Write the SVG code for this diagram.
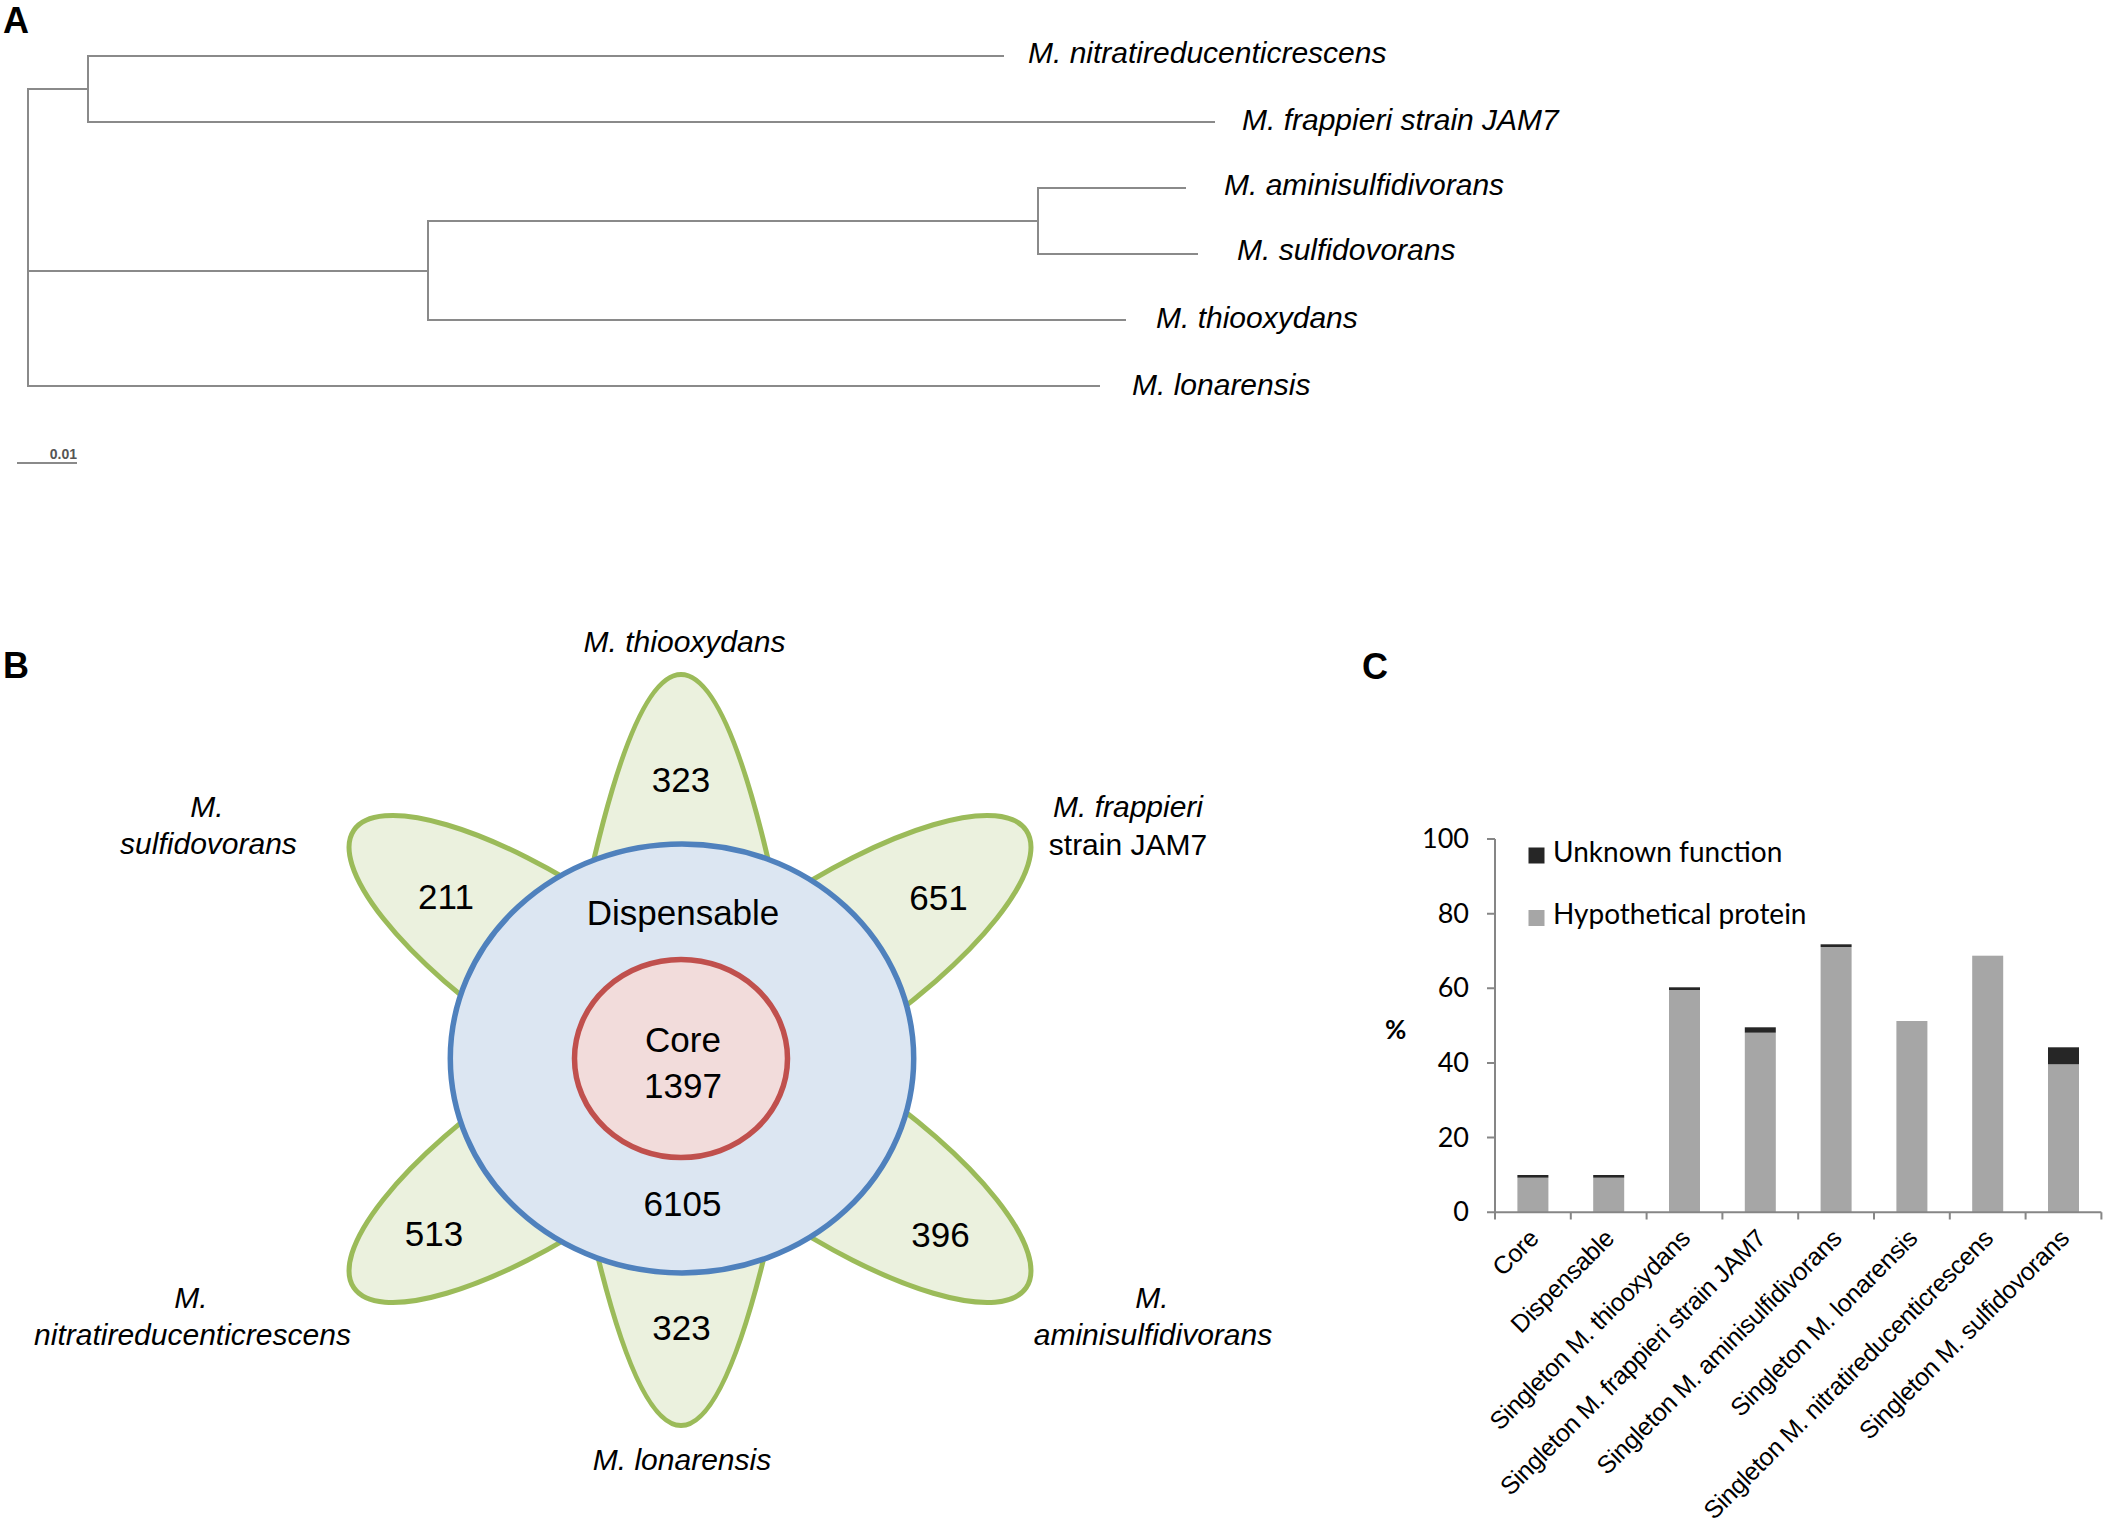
<svg xmlns="http://www.w3.org/2000/svg" width="2105" height="1526" viewBox="0 0 2105 1526">
<style>
.panel{font-family:"Liberation Sans",Arial,sans-serif;font-weight:bold;font-size:36px;fill:#000}
.tree{fill:none;stroke:#8a8a8a;stroke-width:2;stroke-linecap:square}
.sp{font-family:"Liberation Sans",Arial,sans-serif;font-style:italic;font-size:30px;fill:#000}
.num{font-family:"Liberation Sans",Arial,sans-serif;font-size:35px;fill:#000;text-anchor:middle}
.petal{fill:#EBF1DE;stroke:#9BBB59;stroke-width:5}
.disp{fill:#DCE6F2;stroke:#4F81BD;stroke-width:5.5}
.core{fill:#F2DCDB;stroke:#C0504D;stroke-width:5.5}
.ax{fill:none;stroke:#868686;stroke-width:2}
.ct{font-family:Lato,"Liberation Sans",sans-serif;font-size:27px;fill:#000}
.lg{font-family:Lato,"Liberation Sans",sans-serif;font-size:28px;fill:#000}
.xl{font-family:"Liberation Sans",Arial,sans-serif;font-size:25px;letter-spacing:-0.35px;fill:#000;text-anchor:end}
.hyp{fill:#A6A6A6}
.unk{fill:#262626}
</style>

<!-- Panel A: tree -->
<text class="panel" x="3" y="33">A</text>
<g id="connectors">
<path class="tree" d="M28,89 V386 M28,89 H88 M88,56 V122 M88,56 H1003 M88,122 H1214 M28,271 H428 M428,221 V320 M428,221 H1038 M1038,188 V254 M1038,188 H1185 M1038,254 H1197 M428,320 H1125 M28,386 H1099"/>
</g>
<g id="leaf-nitratireducenticrescens"><text class="sp" x="1028" y="63">M. nitratireducenticrescens</text></g>
<g id="leaf-frappieri"><text class="sp" x="1242" y="130">M. frappieri strain JAM7</text></g>
<g id="leaf-aminisulfidivorans"><text class="sp" x="1224" y="195">M. aminisulfidivorans</text></g>
<g id="leaf-sulfidovorans"><text class="sp" x="1237" y="260">M. sulfidovorans</text></g>
<g id="leaf-thiooxydans"><text class="sp" x="1156" y="328">M. thiooxydans</text></g>
<g id="leaf-lonarensis"><text class="sp" x="1132" y="395">M. lonarensis</text></g>
<g id="scale-bar">
<line x1="17" y1="463" x2="77" y2="463" stroke="#8a8a8a" stroke-width="2"/>
<text x="77" y="459" text-anchor="end" font-family="Liberation Sans,Arial,sans-serif" font-size="14" font-weight="bold" fill="#555">0.01</text>
</g>

<!-- Panel B: flower -->
<text class="panel" x="3" y="678">B</text>
<g id="petal-thiooxydans">
<path class="petal" d="M586,894.5 Q633.5,674.5 681,674.5 Q728.5,674.5 776,894.5 Z"/>
</g>
<g id="petal-lonarensis">
<path class="petal" d="M586,1205.5 Q633.5,1425.5 681,1425.5 Q728.5,1425.5 776,1205.5 Z"/>
</g>
<g id="petal-sulfidovorans">
<ellipse class="petal" cx="562.7" cy="971.3" rx="252" ry="80" transform="rotate(34 562.7 971.3)"/>
</g>
<g id="petal-nitratireducenticrescens">
<ellipse class="petal" cx="562.7" cy="1146.7" rx="252" ry="80" transform="rotate(-34 562.7 1146.7)"/>
</g>
<g id="petal-frappieri">
<ellipse class="petal" cx="817.3" cy="971.3" rx="252" ry="80" transform="rotate(-34 817.3 971.3)"/>
</g>
<g id="petal-aminisulfidivorans">
<ellipse class="petal" cx="817.3" cy="1146.7" rx="252" ry="80" transform="rotate(34 817.3 1146.7)"/>
</g>
<g id="dispensable">
<ellipse class="disp" cx="682" cy="1058.4" rx="231.7" ry="214.5"/>
<text class="num" x="683" y="925">Dispensable</text>
<text class="num" x="682.5" y="1216">6105</text>
</g>
<g id="core">
<ellipse class="core" cx="681" cy="1058.5" rx="106.5" ry="99"/>
<text class="num" x="683" y="1052">Core</text>
<text class="num" x="683" y="1098">1397</text>
</g>
<g id="counts">
<text class="num" x="681" y="792">323</text>
<text class="num" x="446" y="909">211</text>
<text class="num" x="938.5" y="910">651</text>
<text class="num" x="434" y="1246">513</text>
<text class="num" x="940.5" y="1247">396</text>
<text class="num" x="681.5" y="1340">323</text>
</g>
<g id="labels-b" class="sp" text-anchor="middle">
<text x="684.5" y="652">M. thiooxydans</text>
<text x="207" y="817">M.</text>
<text x="208.5" y="854">sulfidovorans</text>
<text x="1128" y="817">M. frappieri</text>
<text x="1128" y="855" font-style="normal">strain JAM7</text>
<text x="191" y="1308">M.</text>
<text x="192.5" y="1345">nitratireducenticrescens</text>
<text x="1152" y="1308">M.</text>
<text x="1153" y="1345">aminisulfidivorans</text>
<text x="682" y="1470">M. lonarensis</text>
</g>

<!-- Panel C: bar chart -->
<text class="panel" x="1362" y="679">C</text>
<g id="chart">
<g id="bars">
<rect class="hyp" x="1517.4" y="1177.7" width="31" height="34.6"/>
<rect class="unk" x="1517.4" y="1175" width="31" height="2.7"/>
<rect class="hyp" x="1593.2" y="1177.7" width="31" height="34.6"/>
<rect class="unk" x="1593.2" y="1175" width="31" height="2.7"/>
<rect class="hyp" x="1669" y="990" width="31" height="222.3"/>
<rect class="unk" x="1669" y="987.3" width="31" height="2.7"/>
<rect class="hyp" x="1744.8" y="1032.7" width="31" height="179.6"/>
<rect class="unk" x="1744.8" y="1027.3" width="31" height="5.4"/>
<rect class="hyp" x="1820.6" y="947" width="31" height="265.3"/>
<rect class="unk" x="1820.6" y="944.3" width="31" height="2.7"/>
<rect class="hyp" x="1896.4" y="1021" width="31" height="191.3"/>
<rect class="hyp" x="1972.2" y="955.7" width="31" height="256.6"/>
<rect class="hyp" x="2048" y="1064.3" width="31" height="148"/>
<rect class="unk" x="2048" y="1047.3" width="31" height="17"/>
</g>
<path class="ax" d="M1495,839 V1212.3 H2101.4 M1487,839 H1495 M1487,913.7 H1495 M1487,988.3 H1495 M1487,1063 H1495 M1487,1137.6 H1495 M1487,1212.3 H1495 M1495,1212.3 V1219.5 M1570.8,1212.3 V1219.5 M1646.6,1212.3 V1219.5 M1722.4,1212.3 V1219.5 M1798.2,1212.3 V1219.5 M1874,1212.3 V1219.5 M1949.8,1212.3 V1219.5 M2025.6,1212.3 V1219.5 M2101.4,1212.3 V1219.5"/>
<g class="ct" text-anchor="end">
<text x="1469" y="848">100</text>
<text x="1469" y="922.7">80</text>
<text x="1469" y="997.3">60</text>
<text x="1469" y="1072">40</text>
<text x="1469" y="1146.6">20</text>
<text x="1469" y="1221.3">0</text>
</g>
<text x="1385" y="1039" font-family="Lato,Liberation Sans,sans-serif" font-weight="bold" font-size="26">%</text>
<g id="legend">
<rect class="unk" x="1528.5" y="847.5" width="16" height="16"/>
<text class="lg" x="1553" y="862">Unknown function</text>
<rect class="hyp" x="1528.5" y="910" width="16" height="16"/>
<text class="lg" x="1553" y="924">Hypothetical protein</text>
</g>
<g id="x-labels">
<text class="xl" transform="translate(1540,1240) rotate(-45)">Core</text>
<text class="xl" transform="translate(1615.7,1240) rotate(-45)">Dispensable</text>
<text class="xl" transform="translate(1691.5,1240) rotate(-45)">Singleton M. thiooxydans</text>
<text class="xl" transform="translate(1767.3,1240) rotate(-45)">Singleton M. frappieri strain JAM7</text>
<text class="xl" transform="translate(1843.1,1240) rotate(-45)">Singleton M. aminisulfidivorans</text>
<text class="xl" transform="translate(1918.9,1240) rotate(-45)">Singleton M. lonarensis</text>
<text class="xl" transform="translate(1994.7,1240) rotate(-45)">Singleton M. nitratireducenticrescens</text>
<text class="xl" transform="translate(2070.5,1240) rotate(-45)">Singleton M. sulfidovorans</text>
</g>
</g>
</svg>
